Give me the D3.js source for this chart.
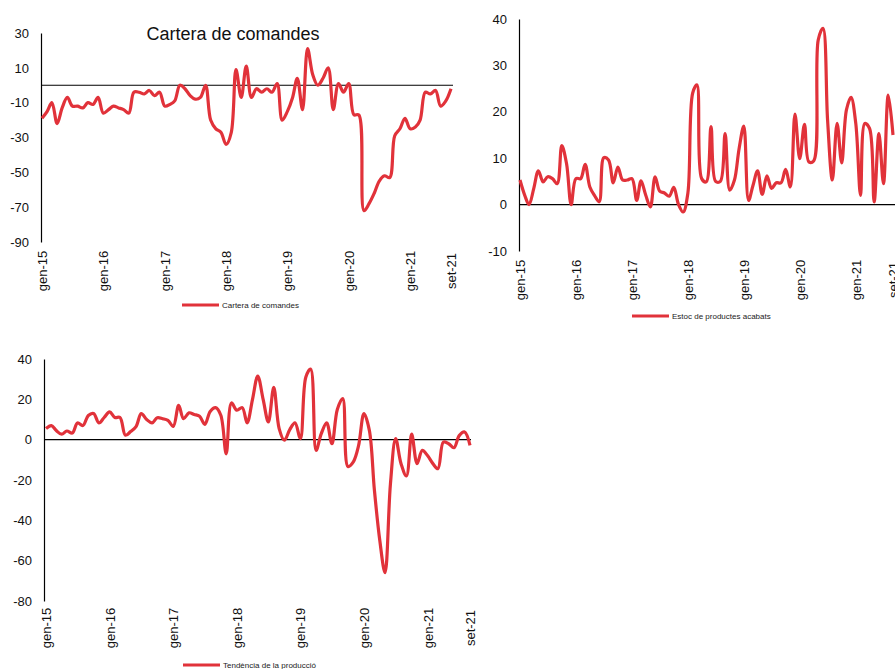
<!DOCTYPE html>
<html lang="ca">
<head>
  <meta charset="UTF-8">
  <title>Enquesta - tres indicadors</title>
  <script src="https://d3js.org/d3.v7.min.js"></script>
  <style>
    body { margin:0; background:#fff; }
    svg { display:block; font-family: "Liberation Sans", Arial, sans-serif; }
  </style>
</head>
<body>
  <svg width="895" height="669"></svg>
  <script>
    // monthly series, gen-15 .. set-21 (81 values)
    const months = d3.timeMonth.range(new Date(2015, 0, 1), new Date(2021, 9, 1))
    const tickMonths = [
      new Date(2015, 0, 1), new Date(2016, 0, 1), new Date(2017, 0, 1), new Date(2018, 0, 1),
      new Date(2019, 0, 1), new Date(2020, 0, 1), new Date(2021, 0, 1), new Date(2021, 8, 1)
    ]
    const tickLabels = ['gen-15', 'gen-16', 'gen-17', 'gen-18', 'gen-19', 'gen-20', 'gen-21', 'set-21']

    const carteraComandes = [
      -19, -15, -10, -22, -13, -7, -12, -12, -13, -10, -11, -7,
      -16, -14, -12, -13, -14, -16, -4, -4, -5, -3, -6, -4,
      -12, -11, -9, 0, -2, -6, -8, -7, 0, -20, -25, -27,
      -34, -27, 9, -7, 11, -7, -2, -4, -2, -4, 1, -20,
      -15, -7, 4, -14, 21, 6, 0, 4, 10, -14, 1, -4,
      1, -17, -17, -72, -68, -62, -55, -52, -53, -29, -25, -19,
      -25, -24, -20, -4, -5, -3, -12, -9, -2
    ]
    const estocProductes = [
      5.3, 2, 0, 3.5, 7.3, 4.9, 6, 5.6, 4.5, 12.7, 8.8, 0,
      5.6, 5.6, 8.7, 3.8, 2, 0.6, 10.1, 9.6, 4.7, 8.1, 5.3, 5.3,
      5.6, 0.9, 5.1, 2, -0.5, 6, 2.9, 2.5, 1.8, 3.7, 0, -1.6,
      2.5, 24, 25.8, 5.6, 4.9, 16.8, 5, 5, 15.3, 3.1, 5.3, 12,
      16.9, 0.9, 4, 7.3, 2.2, 6.2, 3.5, 4.7, 4.7, 7.6, 3.8, 19.5,
      9.9, 17.3, 9.2, 9.4, 35.5, 38, 18.2, 5.3, 17.5, 9, 20.4, 23.1,
      17.5, 2, 17.5, 16.4, 0.6, 15.3, 4.5, 23.6, 15
    ]
    const tendenciaProduccio = [
      5.5, 7, 4.5, 2.7, 4.3, 3.3, 8.3, 7, 12, 13, 8.3, 11,
      13.8, 11, 11, 2.2, 4, 6.5, 12.9, 10, 8.3, 10.9, 10.4, 9.6,
      6.6, 17, 10.4, 13.3, 12.5, 11.6, 7.6, 14, 15.9, 12.1, -7, 18.2,
      14.6, 15.9, 8.3, 20, 31.5, 20, 8.8, 25.9, 5.5, -0.3, 5, 8.3,
      0.5, 31, 35, -5.3, 3, 8.3, -2, 15, 20.4, -13.3, -11, -3,
      12.9, 4.6, -25, -50, -66, -22, 0.5, -12, -18, 2.7, -11.9, -5.3,
      -8, -12, -14.4, -1.2, -2, -4, 2, 3.8, -2.8
    ]

    const yTicks1 = [-90, -70, -50, -30, -10, 10, 30]
    const yTicks2 = [-10, 0, 10, 20, 30, 40]
    const yTicks3 = [-80, -60, -40, -20, 0, 20, 40]

    const red = '#e1323a'
    const svg = d3.select('svg')

    function panel (o) {
      const g = svg.append('g')
      const x = d3.scaleTime()
        .domain([months[0], months[months.length - 1]])
        .range([o.x0, o.x1])
      const y = d3.scaleLinear().domain(o.yDomain).range([o.yBottom, o.yTop])

      // y axis: plain line, labels only (hyphen minus like the original)
      const yAxis = d3.axisLeft(y).tickValues(o.yTicks).tickSize(0).tickPadding(12)
        .tickFormat(d => String(d))
      g.append('g')
        .attr('transform', 'translate(' + [o.axisX, 0] + ')')
        .call(yAxis)
        .call(s => s.select('.domain').attr('stroke', '#000').attr('stroke-width', 1.2))
        .call(s => s.selectAll('text').attr('font-size', 13).attr('fill', '#111')
          .attr('font-family', '"Liberation Sans", Arial, sans-serif'))

      // zero line
      g.append('line')
        .attr('x1', o.axisX).attr('x2', o.zeroEnd)
        .attr('y1', y(0)).attr('y2', y(0))
        .attr('stroke', '#000').attr('stroke-width', 1.2)

      // rotated month labels
      const xAxis = d3.axisBottom(x).tickValues(tickMonths).tickSize(0)
        .tickFormat((d, i) => tickLabels[i])
      g.append('g')
        .attr('transform', 'translate(' + [0, o.labelY] + ')')
        .call(xAxis)
        .call(s => s.select('.domain').remove())
        .call(s => s.selectAll('text')
          .attr('x', 0).attr('y', 0).attr('dy', '0.35em')
          .attr('transform', 'rotate(-90)')
          .style('text-anchor', 'middle')
          .attr('font-size', 13).attr('fill', '#111')
          .attr('font-family', '"Liberation Sans", Arial, sans-serif'))

      const line = d3.line()
        .x((d, i) => x(months[i]))
        .y(d => y(d))
        .curve(d3.curveCatmullRom.alpha(0.5))
      g.append('path')
        .datum(o.values)
        .attr('fill', 'none')
        .attr('stroke', red)
        .attr('stroke-width', 3.2)
        .attr('stroke-linejoin', 'round')
        .attr('d', line)

      if (o.title) {
        g.append('text')
          .attr('x', o.titleX).attr('y', o.titleY)
          .attr('text-anchor', 'middle')
          .attr('font-size', 18).attr('fill', '#111')
          .text(o.title)
      }

      // legend
      g.append('line')
        .attr('x1', o.legX).attr('x2', o.legX + 37)
        .attr('y1', o.legY).attr('y2', o.legY)
        .attr('stroke', red).attr('stroke-width', 3)
      g.append('text')
        .attr('x', o.legX + 40).attr('y', o.legY + 3)
        .attr('font-size', 8).attr('fill', '#222')
        .text(o.legend)
    }

    panel({
      values: carteraComandes, yDomain: [-90, 30], yTicks: yTicks1,
      x0: 42, x1: 451, axisX: 41, zeroEnd: 453, yTop: 33, yBottom: 242,
      labelY: 271, title: 'Cartera de comandes', titleX: 233, titleY: 40,
      legX: 182, legY: 305, legend: 'Cartera de comandes'
    })
    panel({
      values: estocProductes, yDomain: [-10, 40], yTicks: yTicks2,
      x0: 520, x1: 893, axisX: 519, zeroEnd: 895, yTop: 19, yBottom: 251,
      labelY: 280, legX: 632, legY: 316, legend: 'Estoc de productes acabats'
    })
    panel({
      values: tendenciaProduccio, yDomain: [-80, 40], yTicks: yTicks3,
      x0: 46, x1: 470, axisX: 44, zeroEnd: 471, yTop: 359, yBottom: 601,
      labelY: 628, legX: 183, legY: 665, legend: 'Tendència de la producció'
    })
  </script>
</body>
</html>
